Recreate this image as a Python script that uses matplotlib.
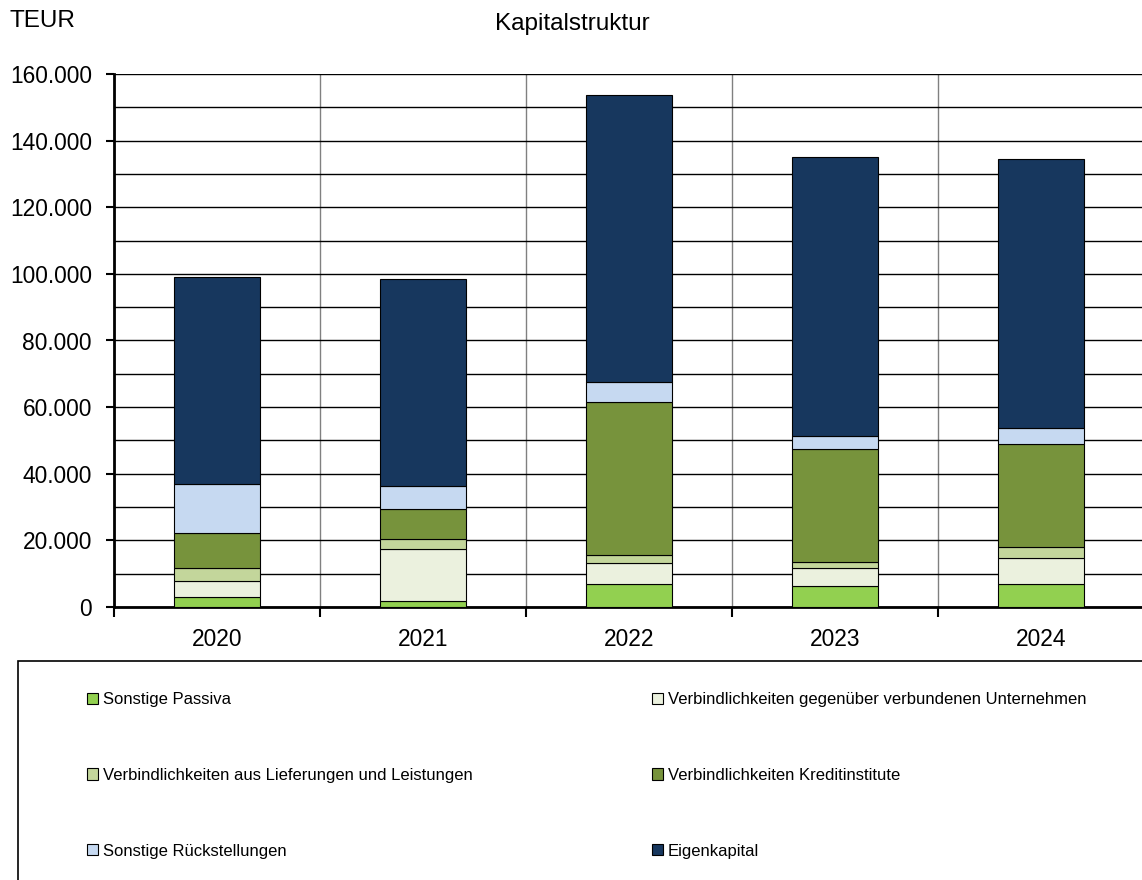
import matplotlib
matplotlib.use("Agg")
import matplotlib.pyplot as plt
from matplotlib.patches import Rectangle, Patch
from matplotlib.ticker import MultipleLocator, FuncFormatter
import numpy as np

plt.rcParams['font.family'] = ['Liberation Sans', 'DejaVu Sans']

years = ["2020", "2021", "2022", "2023", "2024"]
sonstige_passiva = [2900, 1700, 6900, 6400, 7000]
verb_verbundene = [4800, 15600, 6200, 5300, 7800]
verb_lieferungen = [4100, 3000, 2400, 1900, 3100]
verb_kredit = [10300, 9000, 46000, 33700, 31100]
sonstige_rueck = [14900, 7100, 6100, 4100, 4800]
eigenkapital = [62100, 62100, 86100, 83700, 80700]

series_names = ["Sonstige Passiva",
                "Verbindlichkeiten gegenüber verbundenen Unternehmen",
                "Verbindlichkeiten aus Lieferungen und Leistungen",
                "Verbindlichkeiten Kreditinstitute",
                "Sonstige Rückstellungen",
                "Eigenkapital"]
series_vals = [sonstige_passiva, verb_verbundene, verb_lieferungen,
               verb_kredit, sonstige_rueck, eigenkapital]
colors = ["#92D050", "#EBF1DE", "#C3D69B", "#77933C", "#C6D9F1", "#17375E"]

W, H = 1142, 880
fig = plt.figure(figsize=(W / 100, H / 100), dpi=100)
ax = fig.add_axes([114 / W, 1 - 607 / H, 1030 / W, (607 - 74) / H])

x = np.arange(len(years))
bottom = np.zeros(len(years))
handles = []
for name, vals, c in zip(series_names, series_vals, colors):
    ax.bar(x, vals, width=0.42, bottom=bottom, color=c, edgecolor="black",
           linewidth=0.8, zorder=3)
    bottom += np.array(vals)
    handles.append(Patch(facecolor=c, edgecolor="black", linewidth=0.8, label=name))

ax.set_xlim(-0.5, 4.5)
ax.set_ylim(0, 160000)

ax.yaxis.set_major_locator(MultipleLocator(20000))
ax.yaxis.set_minor_locator(MultipleLocator(10000))
ax.yaxis.set_major_formatter(FuncFormatter(lambda v, p: f"{int(v):,}".replace(",", ".")))
ax.grid(True, which="both", axis="y", color="black", linewidth=1.0, zorder=0)

ax.set_xticks(x)
ax.set_xticklabels(years)
ax.set_xticks(np.arange(-0.5, 4.6, 1.0), minor=True)
ax.grid(True, which="minor", axis="x", color="#808080", linewidth=1.0, zorder=0)

ax.tick_params(axis="x", which="major", length=0, pad=15, labelsize=16.4)
ax.tick_params(axis="x", which="minor", length=7, width=1.5, direction="out")
ax.tick_params(axis="y", which="major", length=6, width=1.5, direction="out", pad=10, labelsize=16.4)
ax.tick_params(axis="y", which="minor", length=0)

for s in ["top", "right"]:
    ax.spines[s].set_visible(False)
ax.spines["left"].set_linewidth(2)
ax.spines["bottom"].set_linewidth(2)

fig.text(572 / W, 1 - 24 / H, "Kapitalstruktur", ha="center", va="center", fontsize=17.5)
fig.text(10 / W, 1 - 21 / H, "TEUR", ha="left", va="center", fontsize=17.5)

# legend frame
rect = Rectangle((18 / W, -0.05), 1.1, (1 - 661 / H) + 0.05, transform=fig.transFigure,
                 facecolor="none", edgecolor="black", linewidth=1.2, clip_on=False)
fig.patches.append(rect)

col1 = [handles[0], handles[2], handles[4]]
col2 = [handles[1], handles[3], handles[5]]
common = dict(frameon=False, fontsize=12, handlelength=0.65, handleheight=0.65,
              handletextpad=0.3, labelspacing=3.65, borderpad=0, borderaxespad=0)
leg1 = fig.legend(handles=col1, loc="upper left", bbox_to_anchor=(87 / W, 1 - 692 / H), **common)
leg2 = fig.legend(handles=col2, loc="upper left", bbox_to_anchor=(652 / W, 1 - 692 / H), **common)

fig.savefig("out.png", dpi=100)
